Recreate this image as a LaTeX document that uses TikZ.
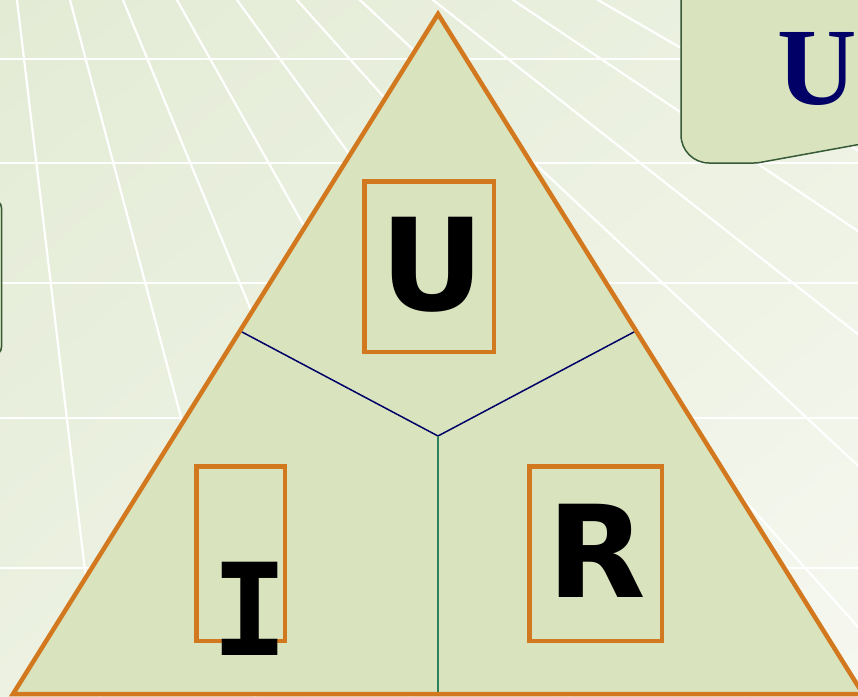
\documentclass[tikz,border=0pt]{standalone}
\usepackage{fontspec}
\usepackage{tikz}
\usetikzlibrary{calc, positioning, shadings}
\newfontfamily\lettersans{DejaVu Sans}
\newfontfamily\lettermono{DejaVu Sans Mono}
\newfontfamily\formulaserif{Liberation Serif}
\definecolor{bgdark}{RGB}{227,235,213}
\definecolor{bgmid}{RGB}{236,241,225}
\definecolor{bglight}{RGB}{246,248,240}
\definecolor{trifill}{RGB}{217,228,191}
\definecolor{myorange}{RGB}{210,120,30}
\definecolor{mynavy}{RGB}{0,0,102}
\definecolor{mygreen}{RGB}{45,130,90}
\definecolor{boxgreen}{RGB}{55,90,55}
\tikzset{
  gridline/.style={white, line width=2.2pt},
  triborder/.style={draw=myorange, line width=4.5pt, line join=miter},
  letterbox/.style={rectangle, draw=myorange, line width=4.5pt, inner sep=0pt},
  letter/.style={font=\fontsize{128}{128}\lettersans\bfseries, inner sep=0pt},
  monoletter/.style={font=\fontsize{128}{128}\lettermono\bfseries, inner sep=0pt},
  formula/.style={font=\fontsize{110}{110}\formulaserif\bfseries, text=mynavy, inner sep=0pt},
  navyline/.style={mynavy, line width=1.5pt},
  greenline/.style={mygreen, line width=1.8pt},
  callout/.style={draw=boxgreen, fill=trifill, line width=1.5pt}
}

\begin{document}
\begin{tikzpicture}[x=1pt, y=-1pt]
  \useasboundingbox (0,0) rectangle (858,696);
  \clip (0,0) rectangle (858,696);
  % background floor
  \shade[upper left=bgdark, upper right=bgmid, lower left=bgmid, lower right=bglight]
    (0,0) rectangle (858,696);
  \coordinate (vp) at (-26,-361);
  \foreach \x in {17,70,123,177,237,297,360,433,513,598,690}
    \draw[gridline] (vp) -- ($(vp)!3.2!(\x,0)$);
  \foreach \y in {59,163,283,418,568}
    \draw[gridline] (0,\y) -- (858,\y);

  % side boxes, cut off by the page
  \draw[callout] (-40,200) [rounded corners=8pt] -- (1.5,200) -- (1.5,355) -- (-40,355);
  \draw[callout] (900,-26) [rounded corners=28pt] -- (681,-26) -- (681,163)
    [rounded corners=3pt] -- (757,163) -- (900,137);
  \node[formula, anchor=base west] (law) at (777,104.5) {U=};

  % the triangle
  \coordinate (apex) at (438,14);
  \coordinate (bl) at (13,694);
  \coordinate (br) at (863,694);
  \coordinate (ctr) at (438,436);
  \coordinate (lm) at ($(apex)!0.466!(bl)$);
  \coordinate (rm) at ($(apex)!0.466!(br)$);
  \coordinate (bm) at ($(bl)!0.5!(br)$);
  \fill[trifill] (apex) -- (bl) -- (br) -- cycle;
  \draw[navyline] (lm) -- (ctr) -- (rm);
  \draw[greenline] (ctr) -- (bm);
  \draw[triborder] (apex) -- (bl) -- (br) -- cycle;

  \node[letterbox, minimum width=129.5pt, minimum height=170.5pt] (ubox) at (429,266.5) {};
  \node[letterbox, minimum width=88.5pt, minimum height=174.5pt] (ibox) at (240.5,553.5) {};
  \node[letterbox, minimum width=132.5pt, minimum height=174.5pt] (rbox) at (595.5,553.5) {};
  \node[letter] (u) at (432.5,265) {U};
  \node[monoletter] (i) at (250,608.5) {I};
  \node[letter] (r) at (597,551) {R};
\end{tikzpicture}
\end{document}
